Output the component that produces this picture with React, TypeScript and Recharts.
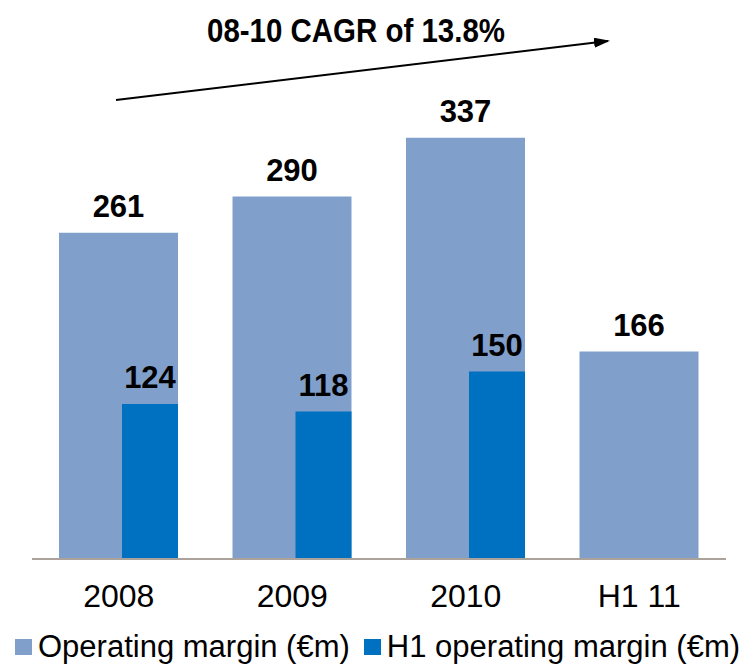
import React from 'react';
import { BarChart, Bar, XAxis, YAxis, LabelList, Legend } from 'recharts';

const categories = ['2008', '2009', '2010', 'H1 11'];
const operatingMargin = [261, 290, 337, 166];
const h1OperatingMargin: (number | null)[] = [124, 118, 150, null];
const yDomain = [0, 400];
const cagrText = '08-10 CAGR of 13.8%';

const data = categories.map((name, i) => ({
  name,
  full: operatingMargin[i],
  h1: h1OperatingMargin[i],
}));

const LIGHT = '#809fcb';
const DARK = '#0070c0';
const FONT = '"Liberation Sans", Arial, sans-serif';

const legendItems = [
  { label: 'Operating margin (€m)', color: LIGHT },
  { label: 'H1 operating margin (€m)', color: DARK },
];

function ChartLegend() {
  return (
    <div style={{ display: 'flex', alignItems: 'center', fontFamily: FONT, fontSize: 31, color: '#000', paddingLeft: 15 }}>
      {legendItems.map((item, i) => (
        <div key={item.label} style={{ display: 'flex', alignItems: 'center', marginRight: i === 0 ? 14 : 0 }}>
          <span style={{ width: 17, height: 16, background: item.color, display: 'inline-block', marginRight: 6 }} />
          <span style={{ whiteSpace: 'nowrap', lineHeight: '34px' }}>{item.label}</span>
        </div>
      ))}
    </div>
  );
}

export default function App() {
  return (
    <div style={{ position: 'absolute', left: 0, top: 0, width: 756, height: 669, background: '#fff' }}>
      <BarChart
        width={756}
        height={669}
        data={data}
        margin={{ top: 59, right: 30, bottom: 0, left: 32 }}
        barGap={-56}
        barCategoryGap={0}
      >
        <XAxis
          dataKey="name"
          height={110}
          axisLine={{ stroke: '#aba39b', strokeWidth: 2 }}
          tickLine={false}
          tickSize={6}
          tickMargin={19}
          tick={{ fill: '#000', fontSize: 32, fontFamily: FONT }}
          interval={0}
        />
        <YAxis hide domain={yDomain} />
        <Legend
          verticalAlign="middle"
          align="center"
          layout="horizontal"
          wrapperStyle={{ top: 630, left: 0, width: 756 }}
          content={() => <ChartLegend />}
        />
        <Bar dataKey="full" fill={LIGHT} barSize={119} isAnimationActive={false}>
          <LabelList
            dataKey="full"
            position="top"
            offset={16}
            style={{ fill: '#000', fontSize: 31, fontWeight: 700, fontFamily: FONT }}
          />
        </Bar>
        <Bar dataKey="h1" fill={DARK} barSize={56} isAnimationActive={false}>
          <LabelList
            dataKey="h1"
            position="top"
            offset={16}
            style={{ fill: '#000', fontSize: 31, fontWeight: 700, fontFamily: FONT }}
          />
        </Bar>
      </BarChart>
      <svg width={756} height={120} style={{ position: 'absolute', left: 0, top: 0, pointerEvents: 'none' }}>
        <defs>
          <marker id="arrowHead" markerWidth="8" markerHeight="5" refX="7" refY="2.5" orient="auto" markerUnits="strokeWidth">
            <path d="M0,0 L8,2.5 L0,5 Z" fill="#000" />
          </marker>
        </defs>
        <text
          x={356}
          y={42}
          textAnchor="middle"
          fontFamily={FONT}
          fontSize={33}
          fontWeight={700}
          fill="#000"
          textLength={298}
          lengthAdjust="spacingAndGlyphs"
        >
          {cagrText}
        </text>
        <line x1={116} y1={100} x2={608} y2={41} stroke="#000" strokeWidth={2} markerEnd="url(#arrowHead)" />
      </svg>
    </div>
  );
}
